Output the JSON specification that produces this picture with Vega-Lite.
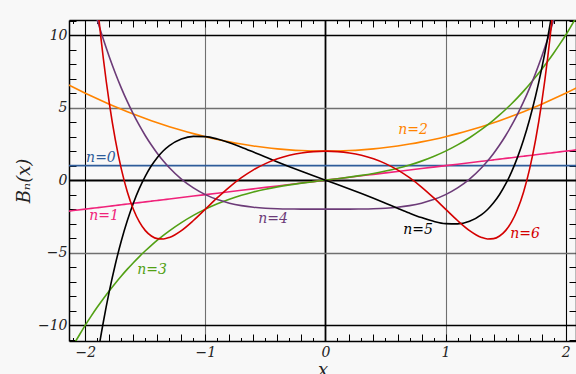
{
  "$schema": "https://vega.github.io/schema/vega-lite/v6.json",
  "width": 507,
  "height": 321,
  "autosize": {"type": "none"},
  "padding": {"left": 69, "top": 20, "right": 0, "bottom": 33},
  "background": "#f8f8f8",
  "config": {
    "view": {"stroke": null},
    "axis": {
      "labelFont": "DejaVu Serif",
      "labelFontStyle": "italic",
      "labelFontSize": 14,
      "labelColor": "#222222",
      "titleFont": "DejaVu Serif",
      "titleFontStyle": "italic",
      "titleFontWeight": "normal",
      "titleFontSize": 18,
      "titleColor": "#222222",
      "domainColor": "#000000",
      "domainWidth": 1.5,
      "tickColor": "#000000",
      "tickWidth": 1,
      "labelFlush": false,
      "labelOverlap": false
    }
  },
  "datasets": {
    "curves": [
      {"x": -2.15, "n0": 1, "n1": -2.15, "n2": 6.6225, "n3": -11.9384, "n4": 19.3675, "n5": -29.5518, "n6": 44.1688},
      {"x": -2.1, "n0": 1, "n1": -2.1, "n2": 6.41, "n3": -11.361, "n4": 17.448, "n5": -25.28, "n6": 35.64},
      {"x": -2.0, "n0": 1, "n1": -2, "n2": 6, "n3": -10, "n4": 14, "n5": -18, "n6": 22},
      {"x": -1.95, "n0": 1, "n1": -1.95, "n2": 5.8025, "n3": -9.3649, "n4": 12.459, "n5": -14.9302, "n6": 16.6549},
      {"x": -1.9, "n0": 1, "n1": -1.9, "n2": 5.61, "n3": -8.759, "n4": 11.0321, "n5": -12.202, "n6": 12.1517},
      {"x": -1.85, "n0": 1, "n1": -1.85, "n2": 5.4225, "n3": -8.1816, "n4": 9.7135, "n5": -9.7884, "n6": 8.395},
      {"x": -1.8, "n0": 1, "n1": -1.8, "n2": 5.24, "n3": -7.632, "n4": 8.4976, "n5": -7.6637, "n6": 5.297},
      {"x": -1.75, "n0": 1, "n1": -1.75, "n2": 5.0625, "n3": -7.1094, "n4": 7.3789, "n5": -5.8037, "n6": 2.7776},
      {"x": -1.7, "n0": 1, "n1": -1.7, "n2": 4.89, "n3": -6.613, "n4": 6.3521, "n5": -4.1856, "n6": 0.7634},
      {"x": -1.65, "n0": 1, "n1": -1.65, "n2": 4.7225, "n3": -6.1421, "n4": 5.412, "n5": -2.7877, "n6": -0.8123},
      {"x": -1.6, "n0": 1, "n1": -1.6, "n2": 4.56, "n3": -5.696, "n4": 4.5536, "n5": -1.5898, "n6": -2.01},
      {"x": -1.55, "n0": 1, "n1": -1.55, "n2": 4.4025, "n3": -5.2739, "n4": 3.772, "n5": -0.5727, "n6": -2.8843},
      {"x": -1.5, "n0": 1, "n1": -1.5, "n2": 4.25, "n3": -4.875, "n4": 3.0625, "n5": 0.2813, "n6": -3.4844},
      {"x": -1.45, "n0": 1, "n1": -1.45, "n2": 4.1025, "n3": -4.4986, "n4": 2.4205, "n5": 0.9889, "n6": -3.8544},
      {"x": -1.4, "n0": 1, "n1": -1.4, "n2": 3.96, "n3": -4.144, "n4": 1.8416, "n5": 1.5658, "n6": -4.0337},
      {"x": -1.35, "n0": 1, "n1": -1.35, "n2": 3.8225, "n3": -3.8104, "n4": 1.3215, "n5": 2.0263, "n6": -4.0571},
      {"x": -1.3, "n0": 1, "n1": -1.3, "n2": 3.69, "n3": -3.497, "n4": 0.8561, "n5": 2.3841, "n6": -3.9554},
      {"x": -1.2, "n0": 1, "n1": -1.2, "n2": 3.44, "n3": -2.928, "n4": 0.0736, "n5": 2.8397, "n6": -3.4812},
      {"x": -1.1, "n0": 1, "n1": -1.1, "n2": 3.21, "n3": -2.431, "n4": -0.5359, "n5": 3.0205, "n6": -2.7866},
      {"x": -1.0, "n0": 1, "n1": -1, "n2": 3, "n3": -2, "n4": -1, "n5": 3, "n6": -2},
      {"x": -0.9, "n0": 1, "n1": -0.9, "n2": 2.81, "n3": -1.629, "n4": -1.3439, "n5": 2.8385, "n6": -1.2108},
      {"x": -0.8, "n0": 1, "n1": -0.8, "n2": 2.64, "n3": -1.312, "n4": -1.5904, "n5": 2.5843, "n6": -0.4771},
      {"x": -0.7, "n0": 1, "n1": -0.7, "n2": 2.49, "n3": -1.043, "n4": -1.7599, "n5": 2.2749, "n6": 0.1674},
      {"x": -0.6, "n0": 1, "n1": -0.6, "n2": 2.36, "n3": -0.816, "n4": -1.8704, "n5": 1.9382, "n6": 0.7075},
      {"x": -0.5, "n0": 1, "n1": -0.5, "n2": 2.25, "n3": -0.625, "n4": -1.9375, "n5": 1.5938, "n6": 1.1406},
      {"x": -0.4, "n0": 1, "n1": -0.4, "n2": 2.16, "n3": -0.464, "n4": -1.9744, "n5": 1.2538, "n6": 1.4729},
      {"x": -0.3, "n0": 1, "n1": -0.3, "n2": 2.09, "n3": -0.327, "n4": -1.9919, "n5": 0.9246, "n6": 1.7145},
      {"x": -0.2, "n0": 1, "n1": -0.2, "n2": 2.04, "n3": -0.208, "n4": -1.9984, "n5": 0.6077, "n6": 1.8769},
      {"x": -0.1, "n0": 1, "n1": -0.1, "n2": 2.01, "n3": -0.101, "n4": -1.9999, "n5": 0.301, "n6": 1.9698},
      {"x": 0, "n0": 1, "n1": 0, "n2": 2, "n3": 0, "n4": -2, "n5": 0, "n6": 2},
      {"x": 0.1, "n0": 1, "n1": 0.1, "n2": 2.01, "n3": 0.101, "n4": -1.9999, "n5": -0.301, "n6": 1.9698},
      {"x": 0.2, "n0": 1, "n1": 0.2, "n2": 2.04, "n3": 0.208, "n4": -1.9984, "n5": -0.6077, "n6": 1.8769},
      {"x": 0.3, "n0": 1, "n1": 0.3, "n2": 2.09, "n3": 0.327, "n4": -1.9919, "n5": -0.9246, "n6": 1.7145},
      {"x": 0.4, "n0": 1, "n1": 0.4, "n2": 2.16, "n3": 0.464, "n4": -1.9744, "n5": -1.2538, "n6": 1.4729},
      {"x": 0.5, "n0": 1, "n1": 0.5, "n2": 2.25, "n3": 0.625, "n4": -1.9375, "n5": -1.5938, "n6": 1.1406},
      {"x": 0.6, "n0": 1, "n1": 0.6, "n2": 2.36, "n3": 0.816, "n4": -1.8704, "n5": -1.9382, "n6": 0.7075},
      {"x": 0.7, "n0": 1, "n1": 0.7, "n2": 2.49, "n3": 1.043, "n4": -1.7599, "n5": -2.2749, "n6": 0.1674},
      {"x": 0.8, "n0": 1, "n1": 0.8, "n2": 2.64, "n3": 1.312, "n4": -1.5904, "n5": -2.5843, "n6": -0.4771},
      {"x": 0.9, "n0": 1, "n1": 0.9, "n2": 2.81, "n3": 1.629, "n4": -1.3439, "n5": -2.8385, "n6": -1.2108},
      {"x": 1.0, "n0": 1, "n1": 1, "n2": 3, "n3": 2, "n4": -1, "n5": -3, "n6": -2},
      {"x": 1.1, "n0": 1, "n1": 1.1, "n2": 3.21, "n3": 2.431, "n4": -0.5359, "n5": -3.0205, "n6": -2.7866},
      {"x": 1.2, "n0": 1, "n1": 1.2, "n2": 3.44, "n3": 2.928, "n4": 0.0736, "n5": -2.8397, "n6": -3.4812},
      {"x": 1.3, "n0": 1, "n1": 1.3, "n2": 3.69, "n3": 3.497, "n4": 0.8561, "n5": -2.3841, "n6": -3.9554},
      {"x": 1.35, "n0": 1, "n1": 1.35, "n2": 3.8225, "n3": 3.8104, "n4": 1.3215, "n5": -2.0263, "n6": -4.0571},
      {"x": 1.4, "n0": 1, "n1": 1.4, "n2": 3.96, "n3": 4.144, "n4": 1.8416, "n5": -1.5658, "n6": -4.0337},
      {"x": 1.45, "n0": 1, "n1": 1.45, "n2": 4.1025, "n3": 4.4986, "n4": 2.4205, "n5": -0.9889, "n6": -3.8544},
      {"x": 1.5, "n0": 1, "n1": 1.5, "n2": 4.25, "n3": 4.875, "n4": 3.0625, "n5": -0.2813, "n6": -3.4844},
      {"x": 1.55, "n0": 1, "n1": 1.55, "n2": 4.4025, "n3": 5.2739, "n4": 3.772, "n5": 0.5727, "n6": -2.8843},
      {"x": 1.6, "n0": 1, "n1": 1.6, "n2": 4.56, "n3": 5.696, "n4": 4.5536, "n5": 1.5898, "n6": -2.01},
      {"x": 1.65, "n0": 1, "n1": 1.65, "n2": 4.7225, "n3": 6.1421, "n4": 5.412, "n5": 2.7877, "n6": -0.8123},
      {"x": 1.7, "n0": 1, "n1": 1.7, "n2": 4.89, "n3": 6.613, "n4": 6.3521, "n5": 4.1856, "n6": 0.7634},
      {"x": 1.75, "n0": 1, "n1": 1.75, "n2": 5.0625, "n3": 7.1094, "n4": 7.3789, "n5": 5.8037, "n6": 2.7776},
      {"x": 1.8, "n0": 1, "n1": 1.8, "n2": 5.24, "n3": 7.632, "n4": 8.4976, "n5": 7.6637, "n6": 5.297},
      {"x": 1.85, "n0": 1, "n1": 1.85, "n2": 5.4225, "n3": 8.1816, "n4": 9.7135, "n5": 9.7884, "n6": 8.395},
      {"x": 1.9, "n0": 1, "n1": 1.9, "n2": 5.61, "n3": 8.759, "n4": 11.0321, "n5": 12.202, "n6": 12.1517},
      {"x": 1.95, "n0": 1, "n1": 1.95, "n2": 5.8025, "n3": 9.3649, "n4": 12.459, "n5": 14.9302, "n6": 16.6549},
      {"x": 2.0, "n0": 1, "n1": 2, "n2": 6, "n3": 10, "n4": 14, "n5": 18, "n6": 22},
      {"x": 2.1, "n0": 1, "n1": 2.1, "n2": 6.41, "n3": 11.361, "n4": 17.448, "n5": 25.28, "n6": 35.64},
      {"x": 2.15, "n0": 1, "n1": 2.15, "n2": 6.6225, "n3": 11.9384, "n4": 19.3675, "n5": 29.5518, "n6": 44.1688}
    ],
    "labels": [
      {"n": "n0", "label": "n=0", "x": -1.87, "y": 1.52},
      {"n": "n1", "label": "n=1", "x": -1.844, "y": -2.48},
      {"n": "n2", "label": "n=2", "x": 0.729, "y": 3.45},
      {"n": "n3", "label": "n=3", "x": -1.444, "y": -6.2},
      {"n": "n4", "label": "n=4", "x": -0.436, "y": -2.69},
      {"n": "n5", "label": "n=5", "x": 0.771, "y": -3.45},
      {"n": "n6", "label": "n=6", "x": 1.662, "y": -3.72}
    ]
  },
  "layer": [
    {
      "data": {"name": "curves"},
      "transform": [{"fold": ["n0", "n1", "n2", "n3", "n4", "n5", "n6"], "as": ["n", "y"]}],
      "mark": {"type": "line", "clip": true, "strokeWidth": 1.6, "interpolate": "monotone"},
      "encoding": {
        "x": {
          "field": "x", "type": "quantitative",
          "scale": {"domain": [-2.136, 2.0866], "nice": false, "zero": false},
          "axis": {
            "orient": "bottom",
            "values": [-2.1, -2, -1.9, -1.8, -1.7, -1.6, -1.5, -1.4, -1.3, -1.2, -1.1, -1, -0.9, -0.8, -0.7, -0.6, -0.5, -0.4, -0.3, -0.2, -0.1, 0, 0.1, 0.2, 0.3, 0.4, 0.5, 0.6, 0.7, 0.8, 0.9, 1, 1.1, 1.2, 1.3, 1.4, 1.5, 1.6, 1.7, 1.8, 1.9, 2],
            "labelExpr": "abs(datum.value - round(datum.value)) < 0.001 ? replace(format(datum.value, 'd'), '-', '−') : ''",
            "grid": true,
            "gridOpacity": {"condition": {"test": "abs(datum.value - round(datum.value)) < 0.001", "value": 1}, "value": 0},
            "gridColor": {"condition": {"test": "abs(datum.value) < 0.001 || abs(abs(datum.value) - 2) < 0.001", "value": "#000000"}, "value": "#707070"},
            "gridWidth": {"condition": {"test": "abs(datum.value) < 0.001", "value": 1.8}, "value": 1.1},
            "tickSize": {"condition": {"test": "abs(datum.value * 5 - round(datum.value * 5)) < 0.001", "value": -7}, "value": -3.5},
            "labelPadding": 11,
            "title": "x",
            "titlePadding": -1
          }
        },
        "y": {
          "field": "y", "type": "quantitative",
          "scale": {"domain": [-11.1, 11.05], "nice": false, "zero": false},
          "axis": {
            "orient": "left",
            "values": [-11, -10, -9, -8, -7, -6, -5, -4, -3, -2, -1, 0, 1, 2, 3, 4, 5, 6, 7, 8, 9, 10, 11],
            "labelExpr": "abs(datum.value % 5) < 0.001 ? replace(format(datum.value, 'd'), '-', '−') : ''",
            "grid": true,
            "gridOpacity": {"condition": {"test": "abs(datum.value % 5) < 0.001", "value": 1}, "value": 0},
            "gridColor": {"condition": {"test": "abs(datum.value) < 0.001 || abs(abs(datum.value) - 10) < 0.001", "value": "#000000"}, "value": "#707070"},
            "gridWidth": {"condition": {"test": "abs(datum.value) < 0.001", "value": 1.8}, "value": 1.3},
            "tickSize": {"condition": {"test": "abs(datum.value % 5) < 0.001", "value": 0}, "value": -7},
            "labelPadding": 2,
            "title": "Bₙ(x)",
            "titlePadding": 4
          }
        },
        "color": {
          "field": "n", "type": "nominal",
          "scale": {"domain": ["n0", "n1", "n2", "n3", "n4", "n5", "n6"], "range": ["#2e5c9a", "#f0227a", "#ff8400", "#52a014", "#6c3b78", "#000000", "#d40000"]},
          "legend": null
        }
      }
    },
    {
      "data": {"name": "labels"},
      "mark": {"type": "text", "font": "DejaVu Serif", "fontStyle": "italic", "fontSize": 14, "align": "center", "baseline": "middle"},
      "encoding": {
        "x": {
          "field": "x", "type": "quantitative",
          "scale": {"domain": [-2.136, 2.0866], "nice": false, "zero": false},
          "axis": {
            "orient": "top",
            "values": [-2.1, -2, -1.9, -1.8, -1.7, -1.6, -1.5, -1.4, -1.3, -1.2, -1.1, -1, -0.9, -0.8, -0.7, -0.6, -0.5, -0.4, -0.3, -0.2, -0.1, 0, 0.1, 0.2, 0.3, 0.4, 0.5, 0.6, 0.7, 0.8, 0.9, 1, 1.1, 1.2, 1.3, 1.4, 1.5, 1.6, 1.7, 1.8, 1.9, 2],
            "labels": false,
            "grid": false,
            "tickSize": {"condition": {"test": "abs(datum.value * 5 - round(datum.value * 5)) < 0.001", "value": -7}, "value": -3.5},
            "title": null
          }
        },
        "y": {
          "field": "y", "type": "quantitative",
          "scale": {"domain": [-11.1, 11.05], "nice": false, "zero": false},
          "axis": {
            "orient": "right",
            "values": [-11, -10, -9, -8, -7, -6, -5, -4, -3, -2, -1, 0, 1, 2, 3, 4, 5, 6, 7, 8, 9, 10, 11],
            "labels": false,
            "grid": false,
            "tickSize": {"condition": {"test": "abs(datum.value % 5) < 0.001", "value": 0}, "value": -7},
            "title": null
          }
        },
        "text": {"field": "label", "type": "nominal"},
        "color": {"field": "n", "type": "nominal", "legend": null}
      }
    }
  ],
  "resolve": {"axis": {"x": "independent", "y": "independent"}}
}
